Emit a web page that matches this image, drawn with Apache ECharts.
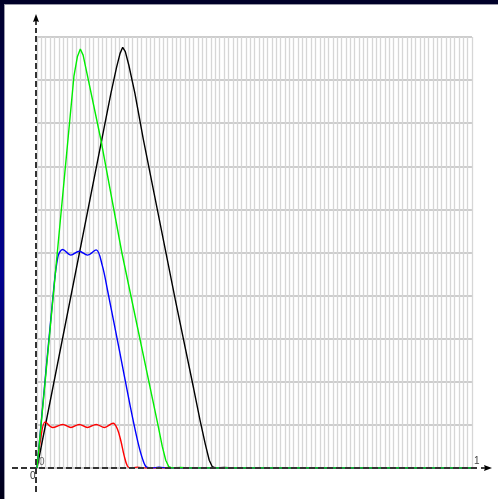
<!DOCTYPE html>
<html><head><meta charset="utf-8">
<script src="https://cdn.jsdelivr.net/npm/echarts@6/dist/echarts.min.js"></script>
<style>
html,body{margin:0;padding:0;width:498px;height:499px;overflow:hidden;}
body{background:linear-gradient(180deg,#000028 0%,#00007a 40%,#000090 55%,#000018 100%);}
#panel{position:absolute;left:5px;top:5px;width:493px;height:494px;background:#fff;box-shadow:0 0 0 1px #9a9aa8;}
#c{position:absolute;left:0;top:0;width:498px;height:499px;}
</style></head>
<body><div id="panel"></div><div id="c"></div>
<script>
// tick labels shown on the axes
const xTickLabels = ['0', '1'];
const yTickLabels = ['0'];
const blackSeries = [[0,0],[0.17,0.87],[0.183,0.93],[0.191,0.962],[0.197,0.976],[0.203,0.966],[0.211,0.935],[0.225,0.87],[0.244,0.765],[0.318,0.39],[0.36,0.185],[0.375,0.11],[0.387,0.055],[0.396,0.018],[0.403,0.003],[0.41,0],[0.43,0.001],[0.45,0],[1,0]];
const redSeries = [[0,0],[0.008,0.065],[0.019,0.107],[0.036,0.094],[0.059,0.101],[0.078,0.094],[0.097,0.101],[0.116,0.094],[0.136,0.101],[0.155,0.094],[0.175,0.104],[0.185,0.09],[0.193,0.062],[0.2,0.03],[0.208,0.004],[0.216,0],[0.23,0.002],[0.25,0],[1,0]];
const blueSeries = [[0,0],[0.036,0.39],[0.048,0.49],[0.059,0.507],[0.078,0.494],[0.097,0.503],[0.116,0.494],[0.136,0.506],[0.15,0.47],[0.162,0.413],[0.19,0.27],[0.215,0.14],[0.232,0.06],[0.243,0.02],[0.252,0.002],[0.265,0],[0.28,0.002],[0.3,0],[1,0]];
const greenSeries = [[0,0],[0.085,0.91],[0.093,0.955],[0.0996,0.972],[0.106,0.958],[0.115,0.915],[0.147,0.761],[0.195,0.5],[0.266,0.158],[0.278,0.1],[0.288,0.05],[0.296,0.018],[0.303,0.003],[0.31,0],[0.33,0.001],[0.35,0],[1,0]];

const chart = echarts.init(document.getElementById('c'), null, {renderer:'canvas'});
function mk(name, data, color, z, smooth){
  return {name, type:'line', data, showSymbol:false, smooth, z,
    lineStyle:{color, width:1.4}, emphasis:{disabled:true}, silent:true};
}
chart.setOption({
  animation:false,
  backgroundColor:'transparent',
  grid:{left:37, right:26, top:37, bottom:31},
  xAxis:{type:'value', min:0, max:1, interval:0.01,
    axisLine:{show:false}, axisTick:{show:false}, axisLabel:{show:false},
    splitLine:{show:true, lineStyle:{color:'#d6d6d6', width:1.3}}},
  yAxis:{type:'value', min:0, max:1, interval:0.1,
    axisLine:{show:false}, axisTick:{show:false}, axisLabel:{show:false},
    splitLine:{show:true, lineStyle:{color:'#bcbcbc', width:1.5}}},
  series:[
    mk('black', blackSeries, '#000000', 2, false),
    mk('red', redSeries, '#ff0000', 3, 0.35),
    mk('blue', blueSeries, '#0000ff', 4, 0.35),
    mk('green', greenSeries, '#00ee00', 5, false)
  ]
});
const o = chart.convertToPixel({gridIndex:0}, [0,0]);
const e = chart.convertToPixel({gridIndex:0}, [1,1]);
const ox=o[0]-1, oy=o[1];
const dash={stroke:'#333', lineWidth:2, lineDash:[6,3]};
chart.setOption({graphic:[
  {type:'line', shape:{x1:12,y1:oy,x2:e[0]+6,y2:oy}, style:dash, z:20},
  {type:'line', shape:{x1:ox,y1:492,x2:ox,y2:e[1]-9}, style:dash, z:20},
  {type:'line', shape:{x1:e[0]+9,y1:oy,x2:e[0]+14,y2:oy}, style:{stroke:'#000',lineWidth:1.5}, z:21},
  {type:'polygon', shape:{points:[[e[0]+20,oy],[e[0]+12,oy-3],[e[0]+13,oy],[e[0]+12,oy+3]]}, style:{fill:'#000'}, z:21},
  {type:'line', shape:{x1:ox,y1:e[1]-12,x2:ox,y2:e[1]-17}, style:{stroke:'#000',lineWidth:1.5}, z:21},
  {type:'polygon', shape:{points:[[ox,e[1]-23],[ox-3,e[1]-15],[ox,e[1]-16],[ox+3,e[1]-15]]}, style:{fill:'#000'}, z:21},
  {type:'text', x:ox-6, y:oy+3, style:{text:xTickLabels[0], fill:'#333', font:'10px sans-serif'}, z:22},
  {type:'text', x:ox+3, y:oy-11, style:{text:yTickLabels[0], fill:'#666', font:'10px sans-serif'}, z:22},
  {type:'text', x:e[0]+2, y:oy-12, style:{text:xTickLabels[1], fill:'#444', font:'10px sans-serif'}, z:22}
]});
</script></body></html>
